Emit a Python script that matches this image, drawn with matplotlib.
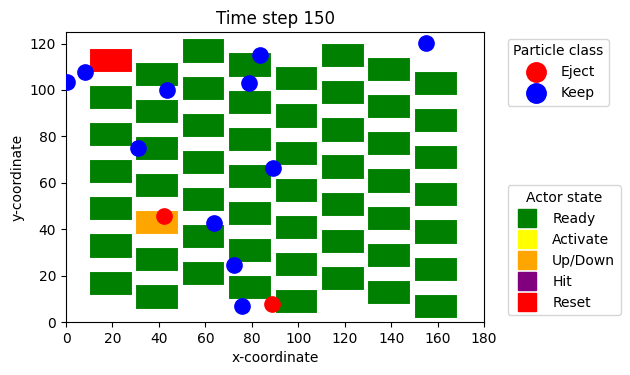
import matplotlib
matplotlib.use("Agg")
import matplotlib.pyplot as plt
from matplotlib.patches import Rectangle
from matplotlib.lines import Line2D

# actor columns (left edge) and bottoms of each actor in the column
col_x = [10, 30, 50, 70, 90, 110, 130, 150]
col_y = [
    [12, 28, 44, 60, 76, 92, 108],
    [6, 22, 38, 54, 70, 86, 102],
    [16, 32, 48, 64, 80, 96, 112],
    [10, 26, 42, 58, 74, 90, 106],
    [4, 20, 36, 52, 68, 84, 100],
    [14, 30, 46, 62, 78, 94, 110],
    [8, 24, 40, 56, 72, 88, 104],
    [2, 18, 34, 50, 66, 82, 98],
]
# (column, row) -> state, everything else is "Ready"
col_state = {(0, 6): "Reset", (1, 2): "Up/Down"}

state_names = ["Ready", "Activate", "Up/Down", "Hit", "Reset"]
state_colors = ["green", "yellow", "orange", "purple", "red"]

# particles
px = [0.3, 8.2, 43.5, 31.2, 42.0, 63.9, 72.3, 75.9, 88.7, 83.4, 78.7, 89.0, 154.8]
py = [103.5, 107.8, 100.2, 74.8, 45.8, 42.8, 24.4, 6.9, 7.7, 115.0, 103.0, 66.2, 120.4]
pclass = ["Keep", "Keep", "Keep", "Keep", "Eject", "Keep", "Keep", "Keep",
          "Eject", "Keep", "Keep", "Keep", "Keep"]
class_names = ["Eject", "Keep"]
class_colors = ["red", "blue"]

fig = plt.figure(figsize=(6.3, 3.75), dpi=100)
ax = fig.add_axes([0.1048, 0.1413, 0.6635, 0.7734])

w, h = 19, 11
for i, x in enumerate(col_x):
    for j, y in enumerate(col_y[i]):
        st = col_state.get((i, j), "Ready")
        c = state_colors[state_names.index(st)]
        ax.add_patch(Rectangle((x - 0.2, y - 0.2), w - 0.6, h - 0.6, facecolor=c,
                               edgecolor="white", linewidth=0.8, zorder=1))

for name, c in zip(class_names, class_colors):
    xs = [x for x, k in zip(px, pclass) if k == name]
    ys = [y for y, k in zip(py, pclass) if k == name]
    ax.scatter(xs, ys, s=121, color=c, zorder=3)

ax.set_xlim(0, 180)
ax.set_ylim(0, 125)
ax.set_xticks(range(0, 181, 20))
ax.set_yticks(range(0, 121, 20))
ax.set_title("Time step 150")
ax.set_xlabel("x-coordinate")
ax.set_ylabel("y-coordinate")

h1 = [Line2D([], [], marker="o", linestyle="none", color=c, markersize=14)
      for c in class_colors]
leg1 = ax.legend(h1, class_names, title="Particle class", loc="upper left",
                 bbox_to_anchor=(1.04, 1))
ax.add_artist(leg1)

h2 = [Line2D([], [], marker="s", linestyle="none", color=c, markersize=13)
      for c in state_colors]
ax.legend(h2, state_names, title="Actor state", loc="lower left",
          bbox_to_anchor=(1.04, 0))

fig.savefig("out.png")
